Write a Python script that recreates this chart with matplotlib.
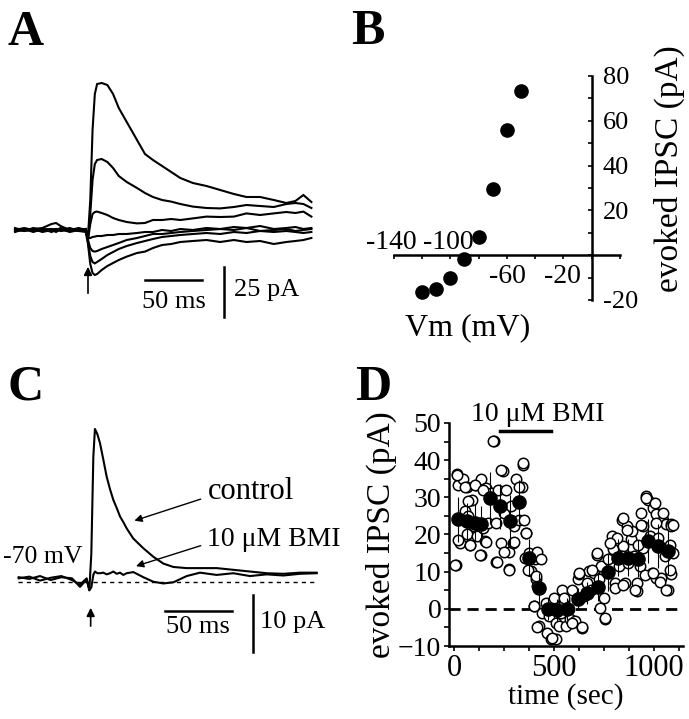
import matplotlib
matplotlib.use('Agg')
import matplotlib.pyplot as plt
from matplotlib.ticker import MultipleLocator

plt.rcParams['font.family'] = ['Liberation Serif', 'DejaVu Serif']

# ---------------- data ----------------
# Panel A: evoked currents at several holding potentials (ms, pA)
a_time = [-64, -56, -48, -40, -32, -28, -24, -16, -8, -2, 0, 2, 4, 6, 8, 12, 17, 22, 27, 34,
          43, 50, 57, 65, 73, 81, 92, 104, 116, 128, 139, 151, 163, 174, 182, 189, 196]
a_tr1 = [0.5, -0.5, 1, 0, 0.5, 0, 1, -0.5, 0.5, 0, -3, 15, 50, 68, 73, 73.5, 72.5, 68, 61, 54,
         45, 38, 35, 32, 29, 26, 23.5, 22, 20, 18, 16.5, 16.5, 15, 13.5, 14.5, 17.5, 14]
a_tr2 = [0, 1, 0, -0.5, 0, 0.5, 0, 1, -0.5, 0.5, -4, 8, 25, 33, 35, 35.5, 34, 31, 27, 24,
         21, 18.5, 16.5, 15, 14.2, 13, 11.7, 11, 10.8, 11.5, 12.5, 12, 11.5, 13, 13.5, 13, 11]
a_tr3 = [-0.5, 0, 0.5, 1, 3, 3.5, 2, 0, 0, 0.5, -5, 3, 8, 9, 9.2, 8.5, 7.5, 6, 5, 4,
         3.3, 3.5, 5, 5, 5.5, 5, 5.8, 6.7, 6.5, 6.7, 8.3, 7.5, 8.3, 9, 8.5, 9.2, 6.7]
a_tr4 = [0, 0.5, -0.5, 0, 0.5, -0.5, 0, 0.5, 0, -0.5, -4, -4, -3.5, -3.3, -3, -3, -2.5, -2.5, -2, -2,
         -1.5, -1, -1, 0, -0.5, 0.5, 0, 1, 0.5, 1.5, 1, 2, 0.5, 1, 1.5, 0.5, 1]
a_tr5 = [-0.5, 0, 0.5, -1, 0, 0.5, -0.5, 0, 1, 0, -5, -9, -10.5, -10.8, -10.5, -9.5, -8.5, -7.5, -6.5, -5,
         -4, -3, -2, -2, -1.5, -1, -0.5, 0, 0.5, 0, 1, -0.5, 0, 0.5, -0.5, 0, 0.5]
a_tr6 = [1, -0.5, 0, 0.5, -1, 0, 0.5, -1, 0, 0.5, -6, -13, -16, -16.7, -16, -14.5, -12.5, -11, -9.5, -8,
         -6.5, -5.5, -4.5, -3.5, -3, -2.5, -2, -1.5, -2, -1, -1.5, -0.5, -1, -0.5, -1, -1.5, -1]
a_tr7 = [-1, 0.5, -1, 0.5, 0, -1, 0.5, 0, -0.5, -1, -7, -17, -21.5, -22.5, -22, -20, -18, -16.5, -15, -13.3,
         -11.5, -10.8, -9, -7.5, -7, -6, -5.5, -5, -6, -5, -6, -5.5, -7, -6, -5.5, -5, -4]

# Panel B: I-V relation
b_vm = [-120, -110, -100, -90, -80, -70, -60, -50]
b_ipsc = [-16.4, -15.0, -10.2, -1.6, 8.1, 29.4, 55.7, 73.1]
b_xticks = [-140, -120, -100, -80, -60, -40, -20, 0, 20]
b_yticks = [-20, 0, 20, 40, 60, 80]
b_ylabels = ['-20', '', '20', '40', '60', '80']

# Panel C: control vs BMI at -70 mV (ms, pA)
c_time = [-54, -46, -38, -30, -22, -14, -8, -3, -1, 0.5, 2, 3.2, 5, 7, 9.5, 12, 14.5, 17, 19.5, 22,
          24.5, 27, 32, 39.5, 47, 54.5, 62, 72, 82, 94.5, 107, 119.5, 132, 144.5, 157, 169.5]
c_control = [0.8, 0.5, 1.0, 0.3, 0.8, 0.6, -0.9, 0.4, -1.5, 5, 22, 26.9, 26, 24.4, 21.5, 18.5, 16.3, 14.4, 13, 11.5,
             10.5, 9.4, 7.6, 5.9, 4.4, 3.2, 2.6, 2.4, 2.4, 2.4, 2.1, 1.8, 1.5, 1.4, 1.6, 1.6]
c_bmi = [0.6, 0.9, 0.2, 0.7, 1.0, 0.3, -0.5, 0.6, -1.5, -1.0, 1.2, 1.8, 1.5, 1.5, 1.6, 1.3, 1.5, 1.8, 1.4, 1.6,
         1.2, 1.5, 1.7, 0.8, 0.0, -0.3, -0.1, 1.0, 1.6, 1.2, 1.5, 1.0, 1.3, 1.1, 1.4, 1.5]

# Panel D: time course (individual responses and binned means)
d_open_t = [10, 16, 21, 30, 43, 54, 63, 66, 71, 79, 92, 99, 112, 117, 134, 137, 145, 153, 162, 170,
            186, 198, 208, 211, 219, 236, 244, 248, 261, 274, 277, 285, 294, 302, 310, 323, 340, 343, 351, 356,
            360, 376, 384, 401, 406, 409, 417, 426, 442, 459, 467, 475, 483, 500, 508, 525, 533, 541, 550, 558,
            574, 578, 591, 607, 620, 624, 640, 649, 665, 673, 686, 698, 715, 723, 736, 748, 756, 772, 789, 797,
            805, 825, 838, 847, 855, 871, 884, 888, 901, 913, 917, 929, 937, 946, 962, 970, 979, 990, 995, 1012,
            1012, 1020, 1036, 1045, 1053, 1061, 1069, 1078, 1083, 1086, 1094,
            13, 54, 104, 145, 195, 236, 343, 327, 71, 5, 21, 79, 129, 162, 214, 252, 274, 302, 360, 368,
            409, 417, 401, 417, 508, 433, 492, 550, 591, 640, 624, 690, 715, 731, 755, 805, 813, 780, 838, 847,
            863, 904, 921, 946, 955, 995, 1012, 1028, 1061, 1078, 1086, 962, 1003, 1045, 847, 937, 1094, 863]
d_open_v = [11.7, 36.3, 33.2, 17.8, 34.8, 26.3, 20.0, 32.8, 24.9, 17.3, 29.4, 22.3, 33.2, 19.6, 14.4, 34.8, 21.8, 18.2, 32.6, 23.2,
            31.2, 45.1, 12.6, 23.0, 32.1, 17.8, 37.2, 25.9, 32.1, 15.3, 10.6, 27.6, 17.8, 22.3, 34.8, 24.0, 32.8, 38.8, 24.0, 13.8,
            20.5, 15.1, 10.2, 0.8, 13.3, 7.9, 6.1, -4.6, -1.0, 1.6, -6.4, -1.9, -8.2, 3.0, -3.7, -4.6, -1.0, 5.2, 2.1, -4.6,
            -0.1, -2.8, 5.2, -3.3, 7.9, 9.3, -5.1, 3.4, 7.0, 10.2, 5.2, 9.7, 14.6, 7.9, 11.5, 3.0, -2.8, 13.3, 19.6, 16.0,
            7.0, 11.5, 24.0, 16.9, 7.0, 12.4, 18.7, 20.9, 14.2, 7.0, 4.8, 11.5, 25.9, 16.4, 30.3, 29.4, 19.6, 9.7, 27.2, 25.4,
            8.2, 19.1, 8.4, 24.0, 14.2, 22.7, 5.2, 17.3, 9.3, 22.7, 15.1,
            36.1, 32.9, 33.4, 32.0, 45.1, 37.4, 39.2, 32.9, 28.9, 11.8, 18.6, 17.2, 14.5, 18.1, 12.5, 15.4, 10.5, 18.1, 20.4, 10.5,
            8.7, 15.4, 0.8, -5.0, -8.2, 13.5, -7.9, 2.9, -3.9, -4.8, 9.6, 10.5, 15.0, 0.2, -2.5, 5.6, 19.1, 17.7, 14.1, 6.4,
            22.2, 5.1, 17.2, 22.2, 9.1, 9.6, 23.1, 7.3, 5.1, 10.5, 22.2, 29.8, 28.5, 25.8, 24.4, 22.6, 22.6, 21.3]
d_mean_t = [21, 63, 104, 134, 182, 228, 281, 327, 376, 426, 472, 517, 566, 620, 665, 719, 769, 822, 871, 921,
            970, 1020, 1069]
d_mean_v = [24.1, 23.6, 23.2, 22.7, 29.9, 27.6, 23.6, 28.7, 13.8, 5.7, -0.1, -0.3, -0.1, 2.6, 4.3, 6.0, 9.9, 13.8, 13.8, 13.5,
            18.2, 16.9, 15.5]
d_mean_err = [6, 5, 5, 5, 7, 6, 7, 6, 5, 4, 3, 3, 3, 3, 3, 4, 5, 5, 5, 5, 6, 6, 6]
d_bmi_on = [228, 487]

# ---------------- figure ----------------
W, H = 689, 719
fig = plt.figure(figsize=(W / 100, H / 100), dpi=100)


def px_axes(x0, y0, x1, y1):
    return fig.add_axes([x0 / W, 1 - y1 / H, (x1 - x0) / W, (y1 - y0) / H])


TFS = 19
LW = 1.5

# ---- Panel A ----
axA = px_axes(0, 60, 340, 330)
axA.set_xlim(-77.2, 221.1)
axA.set_ylim(-50, 85)
axA.axis('off')
for tr in [a_tr7, a_tr6, a_tr5, a_tr4, a_tr3, a_tr2, a_tr1]:
    axA.plot(a_time, tr, color='black', lw=LW, solid_joinstyle='miter')
axA.annotate('', xy=(0, -17), xytext=(0, -33),
             arrowprops=dict(arrowstyle='-|>', color='black', lw=1.2, mutation_scale=12))
axA.plot([50, 100], [-25, -25], color='black', lw=1.8)
axA.text(75, -36, '50 ms', ha='center', va='center', fontsize=TFS)
axA.plot([119.3, 119.3], [-18.5, -43.5], color='black', lw=1.8)
axA.text(128, -30, '25 pA', ha='left', va='center', fontsize=TFS)

# ---- Panel B ----
axB = px_axes(393.6, 76, 620, 300)
axB.set_xlim(-140, 20)
axB.set_ylim(-20, 80)
axB.spines['left'].set_visible(False)
axB.spines['top'].set_visible(False)
axB.spines['bottom'].set_position(('data', 0))
axB.spines['right'].set_position(('data', 0))
for s in ['bottom', 'right']:
    axB.spines[s].set_linewidth(1.8)
axB.yaxis.tick_right()
axB.set_yticks(b_yticks)
axB.set_yticklabels(b_ylabels, fontsize=TFS)
axB.yaxis.set_minor_locator(MultipleLocator(10))
axB.tick_params(axis='y', which='both', direction='in', length=3, width=1.2, pad=8)
axB.set_xticks(b_xticks)
axB.set_xticklabels([''] * len(b_xticks))
axB.tick_params(axis='x', which='both', direction='out', length=3, width=1.2)
axB.plot(b_vm, b_ipsc, 'o', color='black', ms=9.5, clip_on=False)
for v, lab, yy in [(-141.5, '-140', 5.5), (-101.5, '-100', 5.5), (-59.5, '-60', -9.5), (-21, '-20', -9.5)]:
    axB.text(v, yy, lab, ha='center', va='center', fontsize=20)
axB.text(55, 38.6, 'evoked IPSC (pA)', rotation=90, ha='center', va='center', fontsize=24, clip_on=False)
axB.text(-88, -32.4, 'Vm (mV)', ha='center', va='center', fontsize=23, clip_on=False)

# ---- Panel C ----
axC = px_axes(0, 400, 340, 680)
axC.set_xlim(-68.0, 187.0)
axC.set_ylim(-17.3, 32.0)
axC.axis('off')
axC.plot([-54.7, 169.5], [0, 0], color='black', lw=1.0, dashes=(3, 3))
axC.plot(c_time, c_bmi, color='black', lw=LW)
axC.plot(c_time, c_control, color='black', lw=LW)
axC.annotate('', xy=(0, -4.1), xytext=(0, -8.3),
             arrowprops=dict(arrowstyle='-|>', color='black', lw=1.2, mutation_scale=12))
axC.plot([55.9, 105.9], [-5.1, -5.1], color='black', lw=1.8)
axC.text(80.5, -8.0, '50 ms', ha='center', va='center', fontsize=TFS)
axC.plot([122, 122], [-2.35, -12.35], color='black', lw=1.8)
axC.text(127, -7.1, '10 pA', ha='left', va='center', fontsize=TFS)
axC.text(-6.0, 4.4, '-70 mV', ha='right', va='center', fontsize=18.5)
axC.text(88, 15.9, 'control', ha='left', va='center', fontsize=22, clip_on=False)
axC.annotate('', xy=(30.8, 10.6), xytext=(84.5, 14.7),
             arrowprops=dict(arrowstyle='-|>', color='black', lw=1.0, mutation_scale=11))
axC.text(87.4, 7.35, '10 \u03bcM BMI', ha='left', va='center', fontsize=20, clip_on=False)
axC.annotate('', xy=(32, 2.6), xytext=(84.5, 6.5),
             arrowprops=dict(arrowstyle='-|>', color='black', lw=1.0, mutation_scale=11))

# ---- Panel D ----
axD = px_axes(449, 423, 683, 646)
axD.set_xlim(-25, 1145)
axD.set_ylim(-10, 50)
for s in ['top', 'right']:
    axD.spines[s].set_visible(False)
for s in ['left', 'bottom']:
    axD.spines[s].set_linewidth(1.8)
axD.set_xticks([0, 500, 1000])
axD.xaxis.set_minor_locator(MultipleLocator(125))
axD.set_yticks(range(-10, 51, 10))
axD.yaxis.set_minor_locator(MultipleLocator(5))
axD.tick_params(which='both', direction='out', length=3.5, width=1.2, pad=2)
axD.tick_params(axis='y', labelsize=20)
axD.tick_params(axis='x', labelsize=22)
axD.axhline(0, color='black', lw=2, dashes=(4, 2.5), zorder=1)
axD.plot(d_open_t, d_open_v, 'o', ms=7.5, mfc='white', mec='black', mew=1.1, zorder=2, clip_on=False)
axD.errorbar(d_mean_t, d_mean_v, yerr=d_mean_err, fmt='o', color='black', ms=9.5,
             elinewidth=0.8, capsize=0, zorder=3)
axD.plot(d_bmi_on, [47.8, 47.8], color='black', lw=2.5, clip_on=False)
axD.text(421, 52.3, '10 \u03bcM BMI', ha='center', va='center', fontsize=20, clip_on=False)
axD.set_xlabel('time (sec)', fontsize=21, labelpad=0)
axD.set_ylabel('evoked IPSC (pA)', fontsize=24, labelpad=1)

# ---- panel letters ----
for lab, x, y in [('A', 8, 45), ('B', 351, 44), ('C', 8, 400), ('D', 355, 400)]:
    fig.text(x / W, 1 - y / H, lab, fontsize=36, fontweight='bold', ha='left', va='baseline')

fig.savefig('out.png', dpi=100)
